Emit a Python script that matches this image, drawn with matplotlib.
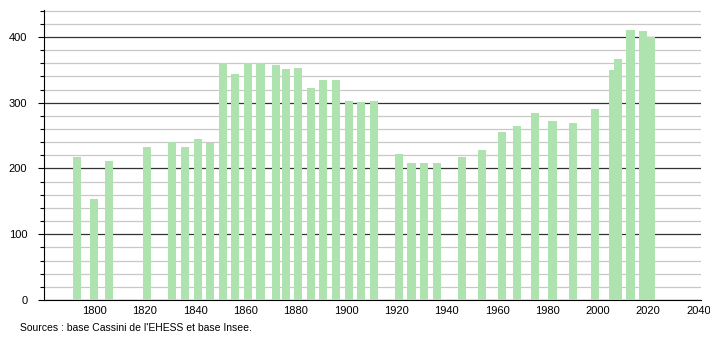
import matplotlib
matplotlib.use('Agg')
import matplotlib.pyplot as plt
from matplotlib.ticker import MultipleLocator

# population by census year
years = [1793, 1800, 1806, 1821, 1831, 1836, 1841, 1846, 1851, 1856,
         1861, 1866, 1872, 1876, 1881, 1886, 1891, 1896, 1901, 1906,
         1911, 1921, 1926, 1931, 1936, 1946, 1954, 1962, 1968, 1975,
         1982, 1990, 1999, 2006, 2008, 2013, 2018, 2021]
population = [218, 154, 211, 232, 240, 232, 245, 238, 360, 344,
              360, 360, 357, 351, 353, 323, 334, 334, 303, 301,
              303, 222, 208, 208, 208, 218, 228, 255, 265, 284,
              272, 269, 290, 350, 366, 411, 409, 400]

x_ticks = [1800, 1820, 1840, 1860, 1880, 1900, 1920, 1940, 1960, 1980, 2000, 2020, 2040]
y_ticks = [0, 100, 200, 300, 400]
source_note = "Sources : base Cassini de l'EHESS et base Insee."

plt.rcParams['font.family'] = ['Liberation Sans', 'DejaVu Sans']

fig = plt.figure(figsize=(7.1, 3.4), dpi=100, facecolor='white')
ax = fig.add_axes([44 / 710, 40 / 340, (701 - 44) / 710, 290 / 340])

ax.bar(years, population, width=3.2, color='#aee2ae', zorder=3)

ax.set_xlim(1780, 2041)
ax.set_ylim(0, 441)
ax.set_xticks(x_ticks)
ax.set_yticks(y_ticks)
ax.yaxis.set_minor_locator(MultipleLocator(20))

ax.grid(axis='y', which='minor', color='#c8c8c8', linewidth=0.9, zorder=0)
ax.grid(axis='y', which='major', color='#333333', linewidth=0.9, zorder=1)

for side in ('top', 'right'):
    ax.spines[side].set_visible(False)
ax.spines['left'].set_color('black')
ax.spines['bottom'].set_color('black')

ax.tick_params(axis='y', which='major', length=4, width=0.8, labelsize=8, pad=8)
ax.tick_params(axis='y', which='minor', length=3, width=0.8)
ax.tick_params(axis='x', length=0, labelsize=8, pad=4)

fig.text(20 / 710, 1 - 328 / 340, source_note, fontsize=7.5, va='center', ha='left')

fig.savefig('out.png', dpi=100)
